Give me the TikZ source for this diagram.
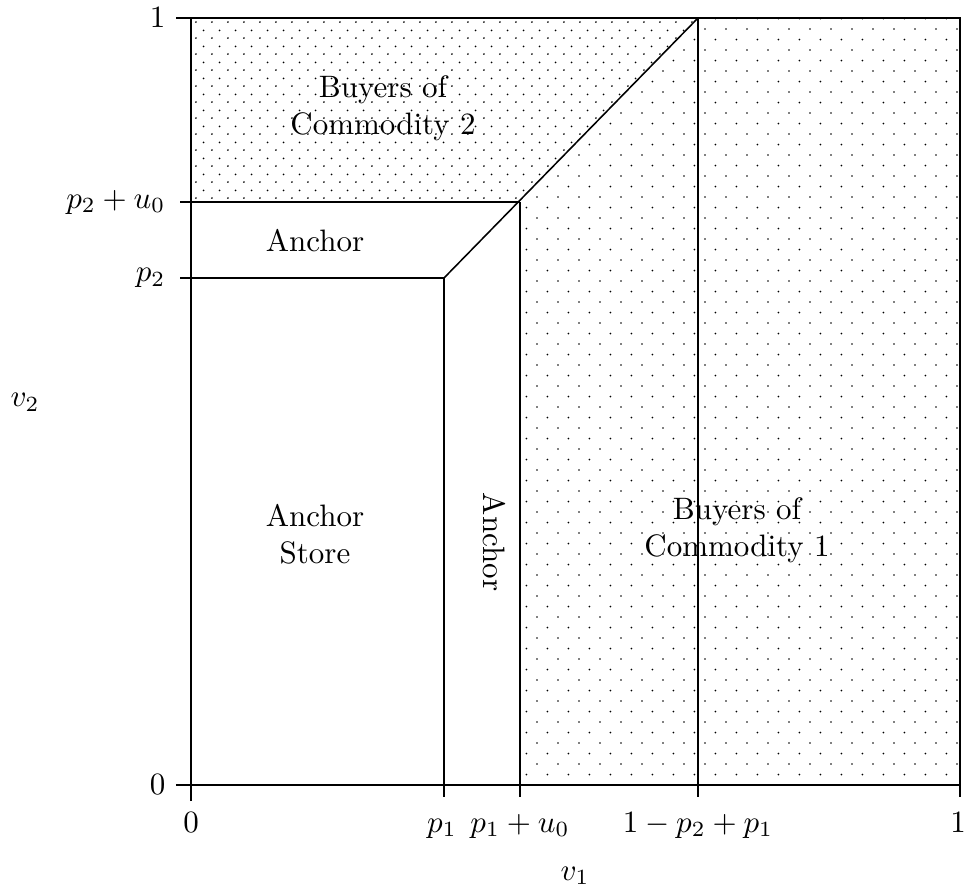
\documentclass[tikz,border=0pt]{standalone}
\usetikzlibrary{patterns}
\pgfdeclarepatternformonly{sdotsA}{\pgfpointorigin}{\pgfqpoint{5.2pt}{5.2pt}}{\pgfqpoint{5.2pt}{5.2pt}}{%
  \pgfpathcircle{\pgfqpoint{1pt}{1pt}}{0.32pt}%
  \pgfpathcircle{\pgfqpoint{3.6pt}{3.6pt}}{0.32pt}%
  \pgfusepath{fill}}
\pgfdeclarepatternformonly{sdotsB}{\pgfpointorigin}{\pgfqpoint{6.9pt}{6.9pt}}{\pgfqpoint{6.9pt}{6.9pt}}{%
  \pgfpathcircle{\pgfqpoint{1pt}{1pt}}{0.32pt}%
  \pgfpathcircle{\pgfqpoint{4.45pt}{4.45pt}}{0.32pt}%
  \pgfusepath{fill}}
\begin{document}
\begin{tikzpicture}[x=0.3226pt,y=-0.3226pt,
  axis/.style={line width=0.85pt},
  bnd/.style={line width=0.5pt},
  lbl/.style={inner sep=0pt},
  region/.style={align=center, inner sep=0pt}]
\useasboundingbox (0,0) rectangle (964,894);
% key points
\coordinate (O) at (191,785);
\coordinate (TL) at (191,18);
\coordinate (TR) at (960,18);
\coordinate (BR) at (960,785);
\coordinate (A) at (444,278);
\coordinate (B) at (520,202);
\coordinate (C) at (698,18);
\coordinate (L1) at (191,278);
\coordinate (L2) at (191,202);
\coordinate (P1) at (444,785);
\coordinate (P2) at (520,785);
\coordinate (P3) at (698,785);
\coordinate (XL) at (176,785);
\coordinate (XT) at (176,18);
\coordinate (YB) at (191,801);
% dotted regions
\fill[pattern=sdotsA] (TL) -- (C) -- (B) -- (L2) -- cycle;
\fill[pattern=sdotsB] (B) -- (C) -- (TR) -- (BR) -- (P2) -- cycle;
% boundaries
\draw[bnd] (L1) -- (A) -- (C);
\draw[bnd] (L2) -- (B);
\draw[bnd] (A) -- (P1);
\draw[bnd] (B) -- (P2);
\draw[bnd] (C) -- (P3);
% axes / frame
\draw[axis] (XL) -- (BR) -- (TR) -- (XT);
\draw[axis] (YB) -- (TL);
\draw[axis] (L2) -- ++(-11,0);
\draw[axis] (L1) -- ++(-11,0);
\draw[axis] (P1) -- ++(0,12);
\draw[axis] (P2) -- ++(0,12);
\draw[axis] (P3) -- ++(0,12);
\draw[axis] (BR) -- ++(0,12);
% y labels
\node[lbl, anchor=east] (y1) at (166,18) {$1$};
\node[lbl, anchor=east] (ypu) at (166,202) {$p_2+u_0$};
\node[lbl, anchor=east] (yp) at (166,278) {$p_2$};
\node[lbl, anchor=east] (y0) at (166,785) {$0$};
\node[lbl] (v2) at (25,402) {$v_2$};
% x labels
\node[lbl, anchor=base] (x0) at (191,832) {$0$};
\node[lbl, anchor=base] (xp) at (442,832) {$p_1$};
\node[lbl, anchor=base] (xpu) at (520,832) {$p_1+u_0$};
\node[lbl, anchor=base] (xq) at (698,832) {$1-p_2+p_1$};
\node[lbl, anchor=base] (x1) at (958,832) {$1$};
\node[lbl, anchor=base] (v1) at (575,880) {$v_1$};
% region labels
\node[region] (r1) at (383,108) {Buyers of\\Commodity 2};
\node[region] (r2) at (315,241) {Anchor};
\node[region] (r3) at (315,534) {Anchor\\Store};
\node[region, rotate=-90] (r4) at (494,542) {Anchor};
\node[region] (r5) at (737,530) {Buyers of\\Commodity 1};
\end{tikzpicture}
\end{document}
